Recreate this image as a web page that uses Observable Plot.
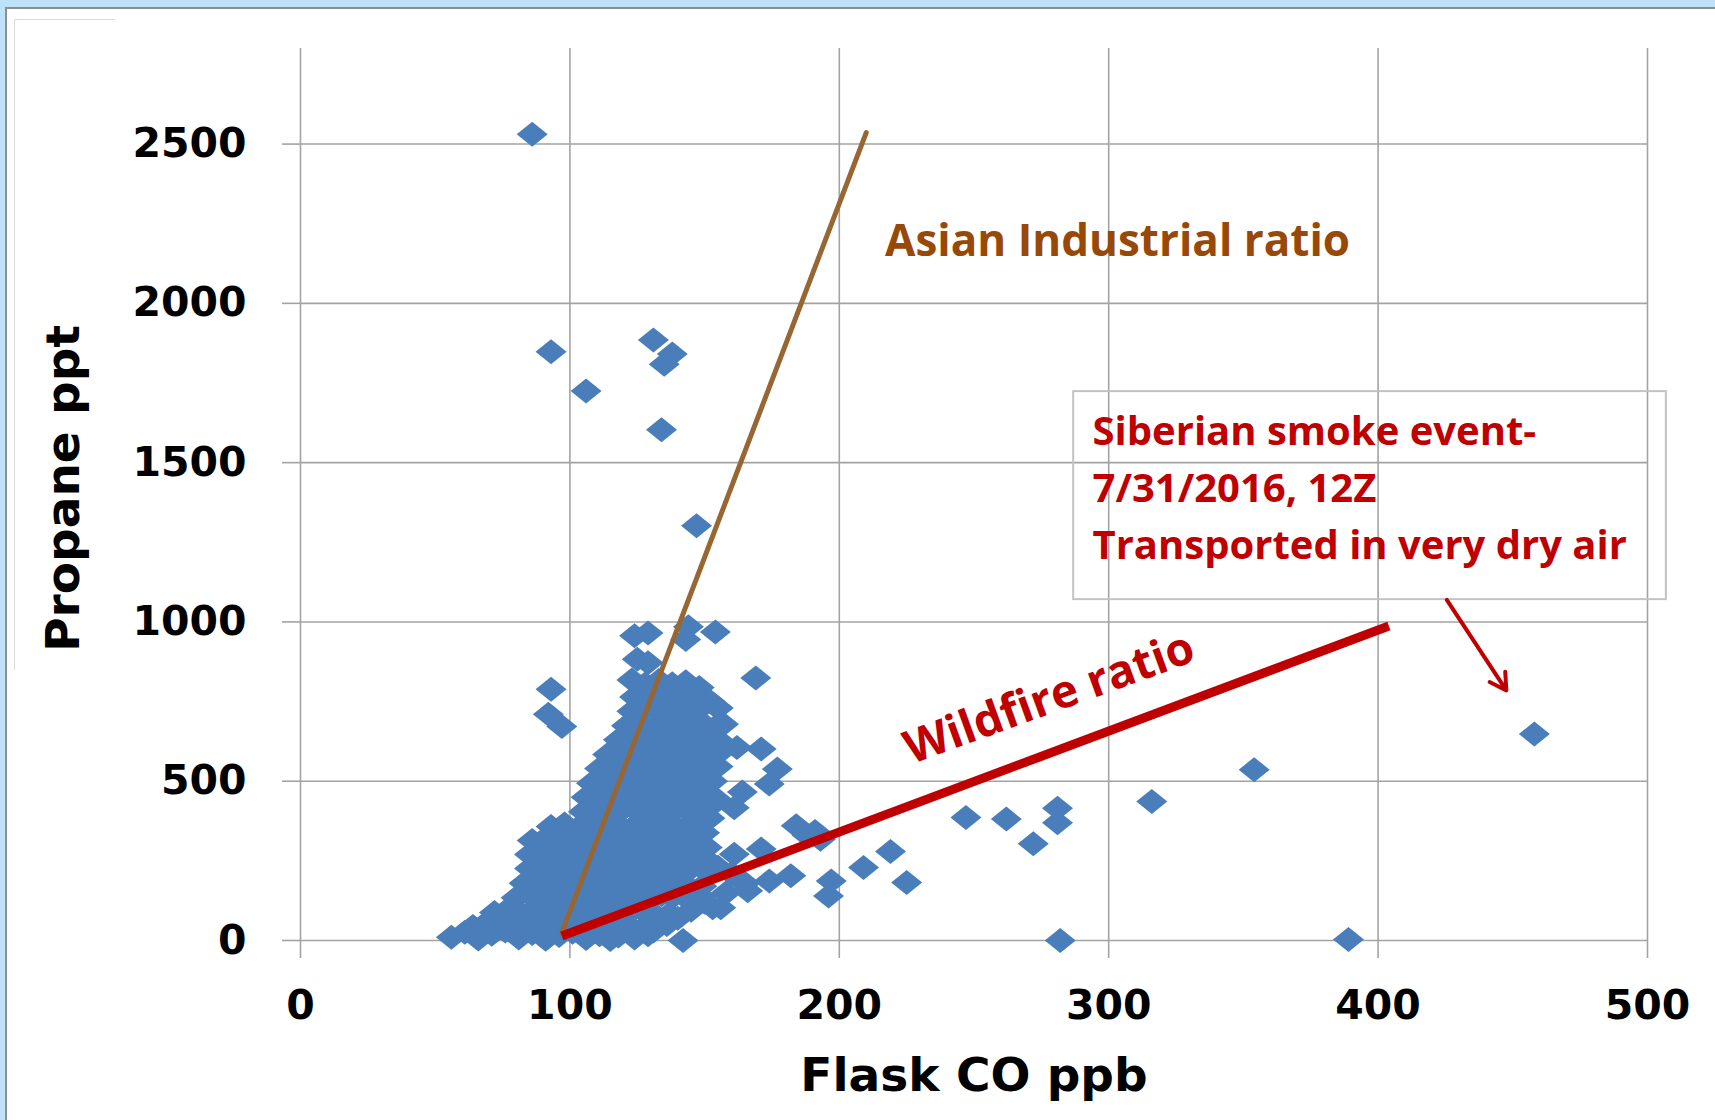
<!DOCTYPE html>
<html><head><meta charset="utf-8">
<script src="https://cdn.jsdelivr.net/npm/d3@7"></script>
<script src="https://cdn.jsdelivr.net/npm/@observablehq/plot@0.6"></script>
<style>
html,body{margin:0;padding:0;background:#bee2f8;}
#wrap{position:relative;width:1715px;height:1120px;overflow:hidden;background:#bee2f8;}
#panel{position:absolute;left:5px;top:7px;right:-10px;bottom:-10px;background:#fff;border-left:2px solid #8e8e8e;border-top:2px solid #8e8e8e;}
#faint{position:absolute;left:14px;top:19px;width:100px;height:650px;border-left:1px solid #dcdcdc;border-top:1px solid #dcdcdc;}
#chart{position:absolute;left:0;top:0;}
</style></head>
<body><div id="wrap"><div id="panel"></div><div id="faint"></div><div id="chart"></div></div>
<script>
// ---- data (Flask CO ppb, Propane ppt) ----
const xTicks = [0, 100, 200, 300, 400, 500];
const yTicks = [0, 500, 1000, 1500, 2000, 2500];

const clusterPoints = [
[56,10],[61,26],[66,5],[71,20],[76,30],[81,8],[86,22],[91,4],[96,16],[101,26],[106,6],[111,18],[115,3],[118,14],[124,8],[129,18],
[64,44],[69,56],[74,42],[79,60],[84,46],[89,54],[94,40],[99,62],[104,48],[109,56],[114,42],[119,58],[122,46],[128,44],[134,52],
[72,88],[77,98],[82,84],[87,100],[92,90],[97,96],[102,86],[107,102],[112,92],[117,98],[122,88],[126,100],[130,92],[137,84],
[80,134],[85,144],[90,130],[95,146],[100,136],[105,140],[110,132],[115,146],[120,136],[125,142],[130,130],[134,144],[138,136],[144,128],
[83,180],[88,190],[93,176],[98,188],[103,182],[108,186],[113,176],[118,192],[123,182],[128,186],[133,176],[138,190],[142,182],[149,170],
[85,226],[90,234],[95,220],[100,236],[105,226],[110,230],[115,220],[120,236],[125,226],[130,232],[135,222],[140,234],[145,226],[151,214],
[85,270],[90,278],[95,266],[100,280],[105,270],[110,276],[115,264],[120,280],[125,270],[130,276],[135,266],[140,280],[146,270],[151,292],
[86,314],[91,322],[96,310],[101,326],[106,316],[111,320],[116,310],[121,324],[126,314],[131,320],[136,310],[141,324],[145,316],[150,338],
[93,358],[98,366],[103,354],[108,370],[113,360],[118,364],[123,354],[128,368],[133,358],[138,364],[143,356],[147,368],[152,384],
[105,404],[110,412],[115,400],[120,414],[125,404],[130,410],[135,400],[140,414],[145,404],[150,410],
[106,450],[111,458],[116,446],[121,460],[126,450],[131,456],[136,446],[141,460],[146,450],[150,456],[155,440],
[108,494],[113,502],[118,490],[123,504],[128,494],[133,500],[138,490],[143,504],[148,494],[153,500],
[111,540],[116,548],[121,536],[126,550],[131,540],[136,546],[141,536],[146,550],[151,540],[155,546],
[114,584],[119,592],[124,580],[129,594],[134,584],[139,590],[144,580],[149,594],[155,586],
[118,630],[123,638],[128,626],[133,640],[138,630],[143,636],[148,626],[152,640],[155,630],
[121,674],[126,682],[131,670],[136,684],[141,674],[146,680],[151,670],[156,684],
[123,720],[128,728],[133,716],[138,730],[143,720],[148,726],[155,730],
[124,764],[129,772],[134,760],[139,774],[144,764],[149,770],[152,751],
[123,818],[128,806],[133,816],[138,806],[143,812],[148,794]
];

const scatterPoints = [
[86,2531],[93,1848],[106,1725],[131,1885],[138,1841],[135,1809],[134,1603],[147,1302],
[124,957],[129,965],[144,985],[143,945],[154,968],[125,883],[129,872],[169,824],
[93,789],[92,710],[97,672],
[155,730],[157,679],[162,606],[171,601],[177,538],[174,491],[164,466],[161,417],
[184,360],[191,342],[193,318],[188,330],
[161,271],[171,287],[182,203],[174,187],[197,187],[196,140],[209,229],[219,279],[225,182],
[142,0],[156,103],[166,156],[149,135],[153,103],
[150,260],[155,230],[160,210],[165,180],[158,150],[150,120],[145,95],[140,70],[136,50],[131,30],
[247,386],[262,381],[281,415],[281,370],[272,304],[282,0],[316,436],[354,536],[389,3],[458,648]
];

const asianLine = [[97,25],[210,2536]];
const wildfireLine = [[97,14],[404,987]];
const smokeArrow = [{x1: 425.5, y1: 1069, x2: 447.6, y2: 785}];
const noteBox = [{x1: 287, x2: 507, y1: 1070, y2: 1723}];

const xTitle = ["Flask CO ppb"];
const yTitle = ["Propane ppt"];
const asianLabel = ["Asian Industrial ratio"];
const wildfireLabel = ["Wildfire ratio"];
const smokeNote = ["Siberian smoke event-\n7/31/2016, 12Z\nTransported in very dry air"];

// ---- styles ----
const blue = "#4a7ebb", red = "#c00000", brown = "#986633", brownText = "#984807", gridColor = "#a3a3a3";
const tickFont = {fontSize: 41, fontWeight: "bold", fontFamily: "DejaVu Sans"};
const noteFont = "Open Sans";

const diamond = {
  draw(context) {
    const w = 15.5, h = 12.5;
    context.moveTo(0, -h);
    context.lineTo(w, 0);
    context.lineTo(0, h);
    context.lineTo(-w, 0);
    context.closePath();
  }
};

const allPoints = clusterPoints.concat(scatterPoints);

const plot = Plot.plot({
  width: 1715,
  height: 1120,
  marginLeft: 300,
  marginRight: 68,
  marginTop: 48,
  marginBottom: 180,
  style: {background: "transparent", overflow: "visible"},
  x: {domain: [0, 500]},
  y: {domain: [0, 2800]},
  marks: [
    Plot.gridX(xTicks, {stroke: gridColor, strokeOpacity: 1, strokeWidth: 1.6}),
    Plot.gridY(yTicks, {stroke: gridColor, strokeOpacity: 1, strokeWidth: 1.6}),
    Plot.axisX(xTicks, {tickSize: 18, tickPadding: 31, stroke: gridColor, strokeWidth: 1.6, color: "#000", fill: "#000", tickFormat: "d", label: null, ...tickFont}),
    Plot.axisY(yTicks, {tickSize: 18, tickPadding: 36, stroke: gridColor, strokeWidth: 1.6, color: "#000", fill: "#000", tickFormat: "d", label: null, ...tickFont}),
    Plot.dot(allPoints, {x: d => d[0], y: d => d[1], symbol: diamond, fill: blue, stroke: "none", r: 10}),
    Plot.line(asianLine, {x: d => d[0], y: d => d[1], stroke: brown, strokeWidth: 5}),
    Plot.line(wildfireLine, {x: d => d[0], y: d => d[1], stroke: red, strokeWidth: 9, strokeLinecap: "butt"}),
    Plot.rect(noteBox, {x1: "x1", x2: "x2", y1: "y1", y2: "y2", fill: "none", stroke: "#c3c3c3", strokeWidth: 2}),
    Plot.arrow(smokeArrow, {x1: "x1", y1: "y1", x2: "x2", y2: "y2", stroke: red, strokeWidth: 4, headLength: 7, bend: 0}),
    Plot.text(asianLabel, {text: d => d, x: 217, y: 2150, textAnchor: "start", lineAnchor: "bottom", fill: brownText, fontSize: 44, fontWeight: "bold", fontFamily: noteFont}),
    Plot.text(wildfireLabel, {text: d => d, x: 278, y: 760, rotate: -20, textAnchor: "middle", lineAnchor: "middle", fill: red, fontSize: 46, fontWeight: "bold", fontFamily: noteFont}),
    Plot.text(smokeNote, {text: d => d, x: 294, y: 1682, textAnchor: "start", lineAnchor: "top", lineHeight: 1.42, fill: red, fontSize: 40, fontWeight: "bold", fontFamily: noteFont}),
    Plot.text(xTitle, {text: d => d, frameAnchor: "bottom", dy: 150, textAnchor: "middle", lineAnchor: "bottom", fill: "#000", fontSize: 47, fontWeight: "bold", fontFamily: "DejaVu Sans"}),
    Plot.text(yTitle, {text: d => d, frameAnchor: "left", dx: -222, dy: -6, rotate: -90, textAnchor: "middle", lineAnchor: "bottom", fill: "#000", fontSize: 47, fontWeight: "bold", fontFamily: "DejaVu Sans"})
  ]
});
document.getElementById("chart").appendChild(plot);
</script></body></html>
